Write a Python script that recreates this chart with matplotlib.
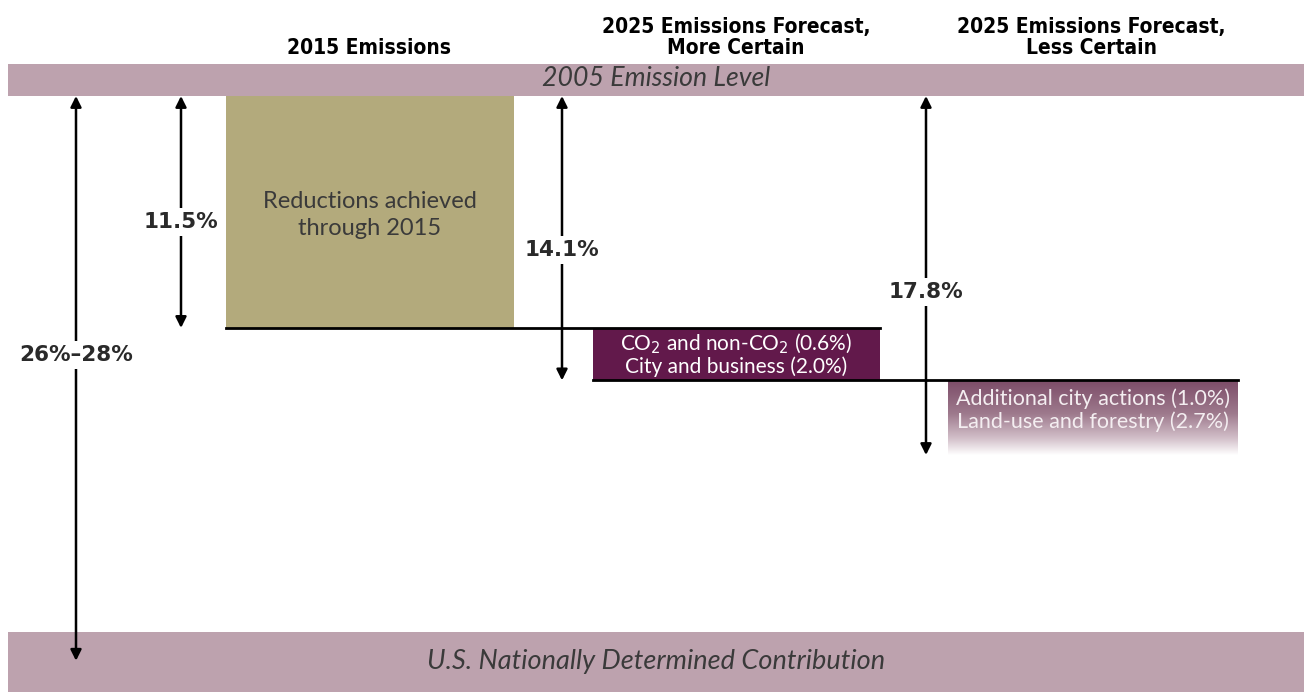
import matplotlib
matplotlib.use("Agg")
import matplotlib.pyplot as plt
import numpy as np
from matplotlib.colors import LinearSegmentedColormap

# reductions from the 2005 level, percent
cumulative = [11.5, 14.1, 17.8]
step_labels = [
    "Reductions achieved\nthrough 2015",
    "CO$_2$ and non-CO$_2$ (0.6%)\nCity and business (2.0%)",
    "Additional city actions (1.0%)\nLand-use and forestry (2.7%)",
]
column_titles = [
    "2015 Emissions",
    "2025 Emissions Forecast,\nMore Certain",
    "2025 Emissions Forecast,\nLess Certain",
]
arrow_labels = ["11.5%", "14.1%", "17.8%"]
target_low, target_high = 26, 28
target_label = "26%\u201328%"
top_band_label = "2005 Emission Level"
bottom_band_label = "U.S. Nationally Determined Contribution"

# layout (pixels across, percent down)
W, H = 1304, 692
px_per_pct = 20.17
y0_px = 96
def pct(px):
    return (px - y0_px) / px_per_pct

box_x = [(226, 514), (593, 880), (948, 1238)]
line_x = [(226, 880), (593, 1238)]
arrow_x = [181, 562, 926]
label_y_px = [222, 250, 292]
title_x = [369, 736, 1091]

band_color = "#bda2ae"
tan = "#b3aa7c"
plum = "#62194b"

fig = plt.figure(figsize=(W / 100, H / 100), dpi=100)
ax = fig.add_axes([0, 0, 1, 1])
ax.set_xlim(0, W)
ax.set_ylim(pct(H), pct(0))
ax.axis("off")

# bands
ax.fill_between([8, W], pct(64), 0, color=band_color, lw=0)
ax.text(656, pct(78), top_band_label, ha="center", va="center",
        fontsize=19.2, style="italic", color="#3a3a3a", family="Lato")
band_top = pct(632)
ax.fill_between([8, W], band_top, pct(H), color=band_color, lw=0)
ax.text(656, pct(662), bottom_band_label, ha="center", va="center",
        fontsize=19.5, style="italic", color="#3a3a3a", family="Lato")

# column titles
for x, t in zip(title_x, column_titles):
    ax.text(x, pct(58), t, ha="center", va="bottom", fontsize=15,
            fontweight="bold", family="DejaVu Sans", fontstretch="condensed",
            linespacing=1.05)

# boxes
prev = [0] + cumulative[:-1]
(x0, x1) = box_x[0]
ax.fill_between([x0, x1], prev[0], cumulative[0], color=tan, lw=0)
ax.text((x0 + x1) / 2, pct(215), step_labels[0], ha="center", va="center",
        fontsize=17, color="#3a3a3a", family="Lato", linespacing=1.3)

(x0, x1) = box_x[1]
ax.fill_between([x0, x1], prev[1], cumulative[1], color=plum, lw=0)
ax.text((x0 + x1) / 2, (prev[1] + cumulative[1]) / 2, step_labels[1],
        ha="center", va="center", fontsize=15, color="white",
        family="Lato", linespacing=1.05)

(x0, x1) = box_x[2]
cmap = LinearSegmentedColormap.from_list(
    "fade", [(0, "#7c4c68"), (0.45, "#9e7a8d"), (0.78, "#d3c0ca"), (1, "white")])
grad = np.linspace(0, 1, 256).reshape(-1, 1)
ax.imshow(grad, cmap=cmap, aspect="auto", extent=[x0, x1, cumulative[2], prev[2]],
          zorder=1)
ax.text((x0 + x1) / 2, pct(410), step_labels[2], ha="center", va="center",
        fontsize=15.5, color="#f4eef1", family="Lato", linespacing=1.12, zorder=3)

# step lines
for (a, b), y in zip(line_x, cumulative[:2]):
    ax.plot([a, b], [y, y], color="black", lw=2, zorder=4)

# arrows
def double_arrow(x, y_end, label, ly):
    ax.annotate("", xy=(x, y_end), xytext=(x, 0),
                arrowprops=dict(arrowstyle="<|-|>", color="black", lw=1.8,
                                mutation_scale=16, shrinkA=0, shrinkB=0),
                zorder=5)
    ax.text(x, ly, label, ha="center", va="center", fontsize=15.5,
            fontweight="bold", color="#2a2a2a", family="DejaVu Sans", zorder=6,
            bbox=dict(boxstyle="square,pad=0.2", fc="white", ec="none"))

for x, y, lab, ly in zip(arrow_x, cumulative, arrow_labels, label_y_px):
    double_arrow(x, y, lab, pct(ly))
double_arrow(76, target_high, target_label, pct(355))

fig.savefig("out.png", dpi=100)
